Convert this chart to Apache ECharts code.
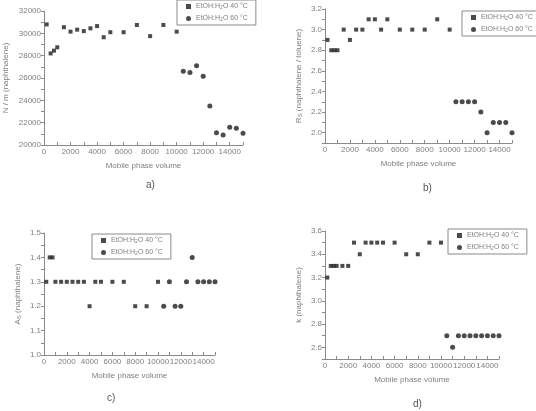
<!DOCTYPE html>
<html>
<head>
<meta charset="utf-8">
<script src="https://cdn.jsdelivr.net/npm/echarts@6/dist/echarts.min.js"></script>
<style>
html, body { margin: 0; padding: 0; background: #fff; }
#main { width: 536px; height: 411px; }
</style>
</head>
<body>
<div id="main"></div>
<script>
// mobile phase volumes
var vol40 = [200, 500, 750, 1000, 1500, 2000, 2500, 3000, 3500, 4000, 4500, 5000, 6000, 7000, 8000, 9000, 10000];
var vol60 = [10500, 11000, 11500, 12000, 12500, 13000, 13500, 14000, 14500, 15000];

// a) N / m
var plates40 = [30800, 28200, 28450, 28750, 30550, 30150, 30330, 30200, 30450, 30650, 29650, 30100, 30100, 30750, 29750, 30750, 30150];
var plates60 = [26600, 26500, 27100, 26150, 23500, 21100, 20900, 21600, 21500, 21050];
// b) Rs
var rs40 = [2.9, 2.8, 2.8, 2.8, 3.0, 2.9, 3.0, 3.0, 3.1, 3.1, 3.0, 3.1, 3.0, 3.0, 3.0, 3.1, 3.0];
var rs60 = [2.3, 2.3, 2.3, 2.3, 2.2, 2.0, 2.1, 2.1, 2.1, 2.0];
// c) As
var as40 = [1.3, 1.4, 1.4, 1.3, 1.3, 1.3, 1.3, 1.3, 1.3, 1.2, 1.3, 1.3, 1.3, 1.3, 1.2, 1.2, 1.3];
var as60 = [1.2, 1.3, 1.2, 1.2, 1.3, 1.4, 1.3, 1.3, 1.3, 1.3];
// d) k
var k40 = [3.2, 3.3, 3.3, 3.3, 3.3, 3.3, 3.5, 3.4, 3.5, 3.5, 3.5, 3.5, 3.5, 3.4, 3.4, 3.5, 3.5];
var k60 = [2.7, 2.6, 2.7, 2.7, 2.7, 2.7, 2.7, 2.7, 2.7, 2.7];

// tick labels
var xLabels = [0, 2000, 4000, 6000, 8000, 10000, 12000, 14000];
var xTicks = [0, 1000, 2000, 3000, 4000, 5000, 6000, 7000, 8000, 9000, 10000, 11000, 12000, 13000, 14000, 15000];
var aLabels = [20000, 22000, 24000, 26000, 28000, 30000, 32000];
var aTicks = [20000, 21000, 22000, 23000, 24000, 25000, 26000, 27000, 28000, 29000, 30000, 31000, 32000];
var bLabels = [2.0, 2.2, 2.4, 2.6, 2.8, 3.0, 3.2];
var bTicks = [1.9, 2.0, 2.1, 2.2, 2.3, 2.4, 2.5, 2.6, 2.7, 2.8, 2.9, 3.0, 3.1, 3.2];
var cLabels = [1.0, 1.1, 1.2, 1.3, 1.4, 1.5];
var cTicks = [1.0, 1.05, 1.1, 1.15, 1.2, 1.25, 1.3, 1.35, 1.4, 1.45, 1.5];
var dLabels = [2.6, 2.8, 3.0, 3.2, 3.4, 3.6];
var dTicks = [2.5, 2.6, 2.7, 2.8, 2.9, 3.0, 3.1, 3.2, 3.3, 3.4, 3.5, 3.6];

var gray = '#8a8a8a';
var txt = '#808080';
var ink = '#1e1e1e';

function pairs(xs, ys) {
    return xs.map(function (x, i) { return [x, ys[i]]; });
}

function plain(v) { return String(v); }
function fix1(v) { return v.toFixed(1); }

function xAxis(idx) {
    return {
        gridIndex: idx, type: 'value', min: 0, max: 15000,
        name: 'Mobile phase volume', nameLocation: 'middle', nameGap: 17,
        nameTextStyle: { color: txt, fontSize: 8, fontFamily: 'Liberation Sans' },
        axisLine: { lineStyle: { color: gray } },
        axisTick: { inside: true, length: 3, lineStyle: { color: gray }, customValues: xTicks },
        axisLabel: { color: txt, fontSize: 8, margin: 3, fontFamily: 'Liberation Sans', customValues: xLabels, formatter: plain, hideOverlap: false },
        splitLine: { show: false }
    };
}

function yAxis(idx, min, max, labels, ticks, name, gap, fmt) {
    return {
        gridIndex: idx, type: 'value', min: min, max: max,
        name: name, nameLocation: 'middle', nameGap: gap,
        nameTextStyle: { color: txt, fontSize: 8, fontFamily: 'Liberation Sans', rich: { sub: { fontSize: 6, verticalAlign: 'bottom', color: txt } } },
        axisLine: { lineStyle: { color: gray } },
        axisTick: { length: 3, lineStyle: { color: gray }, customValues: ticks },
        axisLabel: { color: txt, fontSize: 8, margin: 3, fontFamily: 'Liberation Sans', customValues: labels, formatter: fmt },
        splitLine: { show: false }
    };
}

function legend(left, top, w) {
    return {
        left: left, top: top, orient: 'vertical',
        width: w,
        itemWidth: 5, itemHeight: 5, itemGap: 5,
        padding: [3, 8, 3, 9],
        borderColor: gray, borderWidth: 1,
        data: [{ name: 's40', icon: 'rect' }, { name: 's60', icon: 'circle' }],
        formatter: function (n) {
            return n === 's40' ? 'EtOH:H{s|2}O 40 °C' : 'EtOH:H{s|2}O 60 °C';
        },
        textStyle: { color: txt, fontSize: 7, fontFamily: 'Liberation Sans', rich: { s: { fontSize: 5, verticalAlign: 'bottom', color: txt } } }
    };
}

function series(idx, xs, ys40, ys60) {
    return [
        { name: 's40', type: 'scatter', xAxisIndex: idx, yAxisIndex: idx, symbol: 'rect', symbolSize: 4, itemStyle: { color: ink }, data: pairs(xs[0], ys40) },
        { name: 's60', type: 'scatter', xAxisIndex: idx, yAxisIndex: idx, symbol: 'circle', symbolSize: 5, itemStyle: { color: ink }, data: pairs(xs[1], ys60) }
    ];
}

var chart = echarts.init(document.getElementById('main'), null, { renderer: 'canvas' });
var vols = [vol40, vol60];

var option = {
    backgroundColor: '#fff',
    animation: false,
    title: [
        { text: 'a)', left: 141, top: 175, textStyle: { color: '#555', fontSize: 10, fontWeight: 'normal' } },
        { text: 'b)', left: 418, top: 178, textStyle: { color: '#555', fontSize: 10, fontWeight: 'normal' } },
        { text: 'c)', left: 102, top: 388, textStyle: { color: '#555', fontSize: 10, fontWeight: 'normal' } },
        { text: 'd)', left: 408, top: 394, textStyle: { color: '#555', fontSize: 10, fontWeight: 'normal' } }
    ],
    grid: [
        { left: 44, top: 11, width: 199, height: 134 },
        { left: 325, top: 9, width: 187, height: 134 },
        { left: 44, top: 233, width: 171, height: 122 },
        { left: 325, top: 231, width: 174, height: 128 }
    ],
    legend: [
        legend(177, 0, 80),
        legend(462, 11, 80),
        legend(92, 234, 73),
        legend(448, 229, 75)
    ],
    xAxis: [xAxis(0), xAxis(1), xAxis(2), xAxis(3)],
    yAxis: [
        yAxis(0, 20000, 32000, aLabels, aTicks, 'N / m (naphthalene)', 34, plain),
        yAxis(1, 1.9, 3.2, bLabels, bTicks, 'R{sub|S} (naphthalene / toluene)', 22, fix1),
        yAxis(2, 1.0, 1.5, cLabels, cTicks, 'A{sub|S} (naphthalene)', 22, fix1),
        yAxis(3, 2.5, 3.6, dLabels, dTicks, 'k (naphthalene)', 22, fix1)
    ],
    series: [].concat(
        series(0, vols, plates40, plates60),
        series(1, vols, rs40, rs60),
        series(2, vols, as40, as60),
        series(3, vols, k40, k60)
    )
};

chart.setOption(option);
</script>
</body>
</html>
